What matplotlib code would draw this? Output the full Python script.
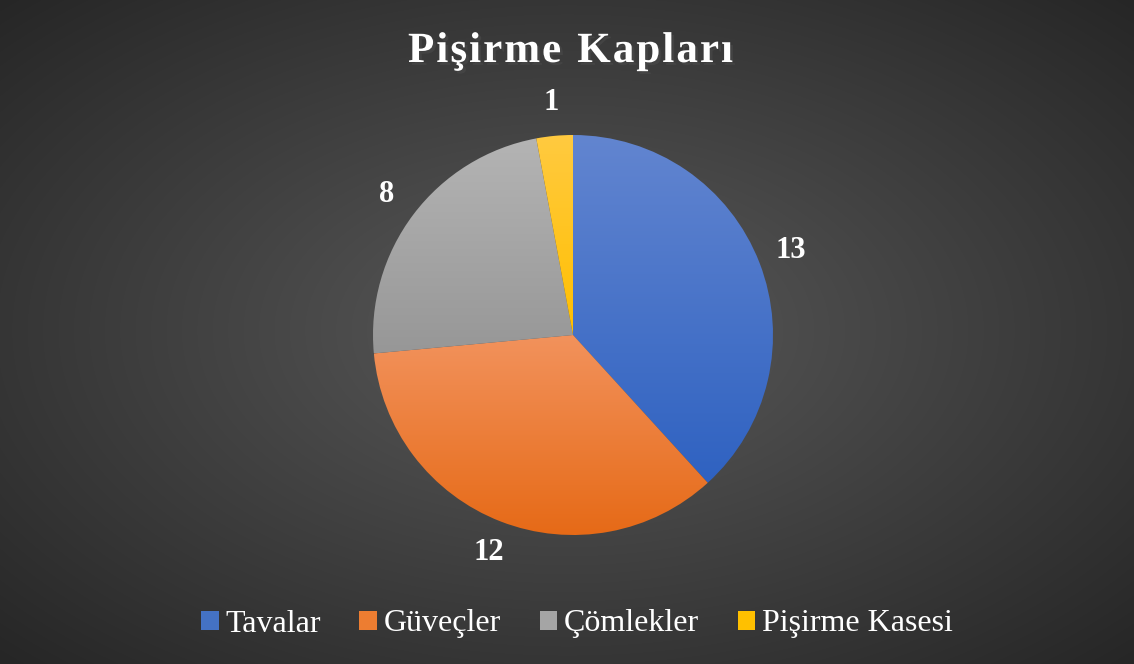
import numpy as np
import matplotlib
matplotlib.use("Agg")
import matplotlib.pyplot as plt
import matplotlib.colors as mcolors
import matplotlib.patheffects as pe
from matplotlib.patches import Patch

plt.rcParams["font.family"] = ["Liberation Serif", "DejaVu Serif"]

title = "Pişirme Kapları"
categories = ["Tavalar", "Güveçler", "Çömlekler", "Pişirme Kasesi"]
values = [13, 12, 8, 1]
colors = ["#4472C4", "#ED7D31", "#A5A5A5", "#FFC000"]
# per-slice gradient ends (top, bottom)
tops = ["#6285d0", "#f2925c", "#b4b4b4", "#ffca40"]
bottoms = ["#2f62c1", "#e66a17", "#979797", "#ffbf00"]

W, H = 1134, 664
fig = plt.figure(figsize=(W / 100, H / 100), dpi=100)

# radial background
bg = fig.add_axes([0, 0, 1, 1], zorder=0)
yy, xx = np.mgrid[0:H, 0:W]
t = np.sqrt(((xx - 567) / (W / 2)) ** 2 + ((yy - 330) / (H / 2)) ** 2) / np.sqrt(2)
t = np.clip(t, 0, 1)
c0 = np.array(mcolors.to_rgb("#5a5a5a"))
c1 = np.array(mcolors.to_rgb("#262626"))
img = c0[None, None, :] * (1 - t[..., None]) + c1[None, None, :] * t[..., None]
bg.imshow(img, extent=[0, W, H, 0], aspect="auto", interpolation="bilinear")
bg.set_xlim(0, W)
bg.set_ylim(H, 0)
bg.axis("off")

# pie axes: 400 px square centred at (573, 335)
cx, cy, r = 573, 335, 200
ax = fig.add_axes([(cx - r) / W, (H - cy - r) / H, 2 * r / W, 2 * r / H], zorder=1)
ax.patch.set_alpha(0)

wedges, texts = ax.pie(
    values,
    labels=[str(v) for v in values],
    colors=colors,
    startangle=90,
    counterclock=False,
    radius=1,
    labeldistance=1.165,
    wedgeprops=dict(linewidth=0),
    textprops=dict(color="white", fontsize=22, fontweight="bold"),
)
for tx in texts:
    tx.set_ha("center")
    tx.set_va("center")

# vertical gradient fill for each slice, lighter at top
for w, c_top, c_bot in zip(wedges, tops, bottoms):
    ext = w.get_path().transformed(w.get_patch_transform()).get_extents()
    a = np.array(mcolors.to_rgb(c_top))
    b = np.array(mcolors.to_rgb(c_bot))
    g = np.linspace(0, 1, 128)[:, None]
    grad = a[None, :] * (1 - g[..., None]) + b[None, :] * g[..., None]
    grad = np.repeat(grad, 2, axis=1)
    im = ax.imshow(grad, extent=[ext.x0, ext.x1, ext.y0, ext.y1], origin="upper",
                   aspect="auto", interpolation="bilinear", zorder=1)
    im.set_clip_path(w)
    w.set_facecolor("none")

ax.set_xlim(-1, 1)
ax.set_ylim(-1, 1)
ax.set_aspect("equal")
ax.axis("off")

# title with letter spacing, drawn char by char
renderer = fig.canvas.get_renderer()
shadow = [pe.withSimplePatchShadow(offset=(2, -2), alpha=0.5)]
tkw = dict(color="white", fontsize=31, fontweight="bold", va="baseline", ha="left")
widths = []
for ch in title:
    tmp = fig.text(0, 0, ch if ch != " " else "n", **tkw)
    bb = tmp.get_window_extent(renderer)
    widths.append(bb.width * (0.5 if ch == " " else 1.0))
    tmp.remove()
target_w = 325
gap = (target_w - sum(widths)) / (len(title) - 1)
x = 570.5 - target_w / 2
for ch, wd in zip(title, widths):
    if ch != " ":
        fig.text(x / W, 1 - 62 / H, ch, path_effects=shadow, **tkw)
    x += wd + gap

handles = [Patch(facecolor=c, edgecolor="none") for c in colors]
fig.legend(handles, categories, loc="center", bbox_to_anchor=(577 / W, 1 - 624 / H),
           ncol=4, frameon=False, fontsize=23, labelcolor="white",
           handlelength=0.55, handleheight=0.55, handletextpad=0.22, columnspacing=1.2)

fig.savefig("out.png", dpi=100)
